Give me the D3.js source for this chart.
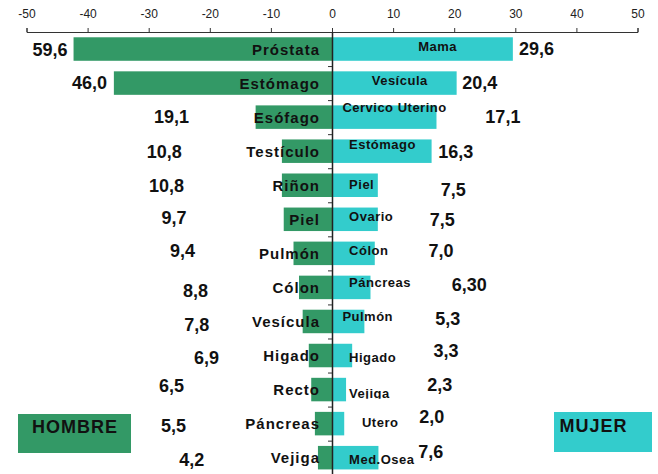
<!DOCTYPE html>
<html>
<head>
<meta charset="utf-8">
<script src="https://cdn.jsdelivr.net/npm/d3@7"></script>
<style>
  body { margin: 0; background: #fff; }
  svg { display: block; font-family: "Liberation Sans", Arial, sans-serif; }
</style>
</head>
<body>
<svg id="chart" width="658" height="474"></svg>
<script>
// --- data ---
const menCancer = ["Próstata", "Estómago", "Esófago", "Testículo", "Riñon", "Piel", "Pulmón",
  "Cólon", "Vesícula", "Higado", "Recto", "Páncreas", "Vejiga"];
const menRateText = ["59,6", "46,0", "19,1", "10,8", "10,8", "9,7", "9,4", "8,8", "7,8", "6,9", "6,5", "5,5", "4,2"];
// bar lengths as drawn (they don't follow the printed numbers on this side)
const menBar = [42.3, 35.7, 12.5, 8.2, 8.2, 7.9, 6.3, 5.4, 4.8, 3.8, 3.4, 2.8, 2.3];

const womenCancer = ["Mama", "Vesícula", "Cervico Uterino", "Estómago", "Piel", "Ovario", "Cólon",
  "Páncreas", "Pulmón", "Higado", "Vejiga", "Utero", "Med.Osea"];
const womenRate = [29.6, 20.4, 17.1, 16.3, 7.5, 7.5, 7.0, 6.3, 5.3, 3.3, 2.3, 2.0, 7.6];
const womenRateText = ["29,6", "20,4", "17,1", "16,3", "7,5", "7,5", "7,0", "6,30", "5,3", "3,3", "2,3", "2,0", "7,6"];

const xTicks = [-50, -40, -30, -20, -10, 0, 10, 20, 30, 40, 50];

// --- label placement (the original labels sit unevenly) ---
// x in axis units, dy in px from row centre to baseline
const menValueEnd = [-43.3, -36.8, -23.4, -24.6, -24.2, -23.8, -22.4, -20.3, -20.1, -18.5, -24.2, -23.9, -20.9];
const menValueDy = [7, 6.3, 5.7, 6.8, 6.5, 4.7, 3.4, 9.3, 9.3, 8.5, 2.5, 8, 8.4];
const womenValueStart = [30.6, 21.3, 25.1, 17.4, 17.8, 16.0, 15.8, 19.6, 16.9, 16.6, 15.6, 14.3, 14.1];
const womenValueDy = [6.3, 6.3, 6.3, 6.8, 10.8, 6.7, 4, 3.3, 3.6, 1.2, 1.5, -0.3, 0.7];
const womenCatStart = [14.1, 6.5, 1.7, 2.8, 2.8, 2.8, 2.8, 2.8, 1.7, 2.8, 2.8, 4.9, 2.8];
const womenCatDy = [1.7, 2, -4.7, -2, 3.8, 1.4, 2, -0.7, -0.4, 6.2, 8.8, 3, 6.4];
const clippedWomenLabel = 10;

const green = "#339966", cyan = "#33cccc";

const svg = d3.select("#chart");

const x = d3.scaleLinear().domain([-50, 50]).range([26.5, 637.5]);
const rows = d3.range(menCancer.length);
const y = d3.scaleBand().domain(rows).range([32, 474.7]).paddingInner(0.31).paddingOuter(0.155);
const rowLines = d3.scaleLinear().domain([0, rows.length]).range([32, 474.7]);
const mid = i => y(i) + y.bandwidth() / 2;

// bars
svg.append("g").selectAll("rect").data(rows).join("rect")
  .attr("x", i => x(-menBar[i]))
  .attr("y", i => y(i))
  .attr("width", i => x(0) - x(-menBar[i]))
  .attr("height", y.bandwidth())
  .attr("fill", green);

svg.append("g").selectAll("rect").data(rows).join("rect")
  .attr("x", x(0))
  .attr("y", i => y(i))
  .attr("width", i => x(womenRate[i]) - x(0))
  .attr("height", y.bandwidth())
  .attr("fill", cyan);

// top axis
const xAxis = svg.append("g")
  .attr("transform", "translate(0,32)")
  .call(d3.axisTop(x).tickValues(xTicks).tickSize(4).tickSizeOuter(4).tickPadding(10)
    .tickFormat(d => String(d)));
xAxis.select(".domain").attr("stroke", "#333");
xAxis.selectAll(".tick line").attr("stroke", "#333");
xAxis.selectAll(".tick text").attr("font-size", 12).attr("fill", "#222")
  .attr("font-family", "'Liberation Sans', Arial, sans-serif");

// centre axis with ticks between rows
const yAxis = svg.append("g")
  .attr("transform", `translate(${x(0)},0)`)
  .call(d3.axisLeft(rowLines).tickValues(d3.range(1, rows.length)).tickSize(4).tickSizeOuter(0).tickFormat(""));
yAxis.select(".domain").attr("stroke", "#222").attr("stroke-width", 1.5);
yAxis.selectAll(".tick line").attr("stroke", "#333");

// men labels
svg.append("g").selectAll("text").data(rows).join("text")
  .attr("x", x(0) - 12)
  .attr("y", i => mid(i) + 5.7)
  .attr("text-anchor", "end")
  .attr("font-size", 15).attr("font-weight", "bold").attr("letter-spacing", 1)
  .attr("fill", "#111")
  .text(i => menCancer[i]);

svg.append("g").selectAll("text").data(rows).join("text")
  .attr("x", i => x(menValueEnd[i]))
  .attr("y", i => mid(i) + menValueDy[i])
  .attr("text-anchor", "end")
  .attr("font-size", 18).attr("font-weight", "bold")
  .attr("fill", "#111")
  .text(i => menRateText[i]);

// women labels
svg.append("clipPath").attr("id", "cut")
  .append("rect")
  .attr("x", 0).attr("width", 658)
  .attr("y", 0).attr("height", mid(clippedWomenLabel) + 9.2);

svg.append("g").selectAll("text").data(rows).join("text")
  .attr("x", i => x(womenCatStart[i]))
  .attr("y", i => mid(i) + womenCatDy[i])
  .attr("font-size", 13).attr("font-weight", "bold").attr("letter-spacing", 0.5)
  .attr("fill", "#111")
  .attr("clip-path", i => i === clippedWomenLabel ? "url(#cut)" : null)
  .text(i => womenCancer[i]);

svg.append("g").selectAll("text").data(rows).join("text")
  .attr("x", i => x(womenValueStart[i]))
  .attr("y", i => mid(i) + womenValueDy[i])
  .attr("font-size", 18).attr("font-weight", "bold")
  .attr("fill", "#111")
  .text(i => womenRateText[i]);

// legend boxes
const legend = [
  { name: "HOMBRE", color: green, x: 18, y: 414, w: 113, h: 39 },
  { name: "MUJER", color: cyan, x: 554, y: 412, w: 98, h: 40 }
];
const lg = svg.append("g").selectAll("g").data(legend).join("g");
lg.append("rect")
  .attr("x", d => d.x).attr("y", d => d.y)
  .attr("width", d => d.w).attr("height", d => d.h)
  .attr("fill", d => d.color);
lg.append("text")
  .attr("x", d => d.name === "HOMBRE" ? d.x + 14 : d.x + 5.5)
  .attr("y", d => d.name === "HOMBRE" ? 433 : 431.7)
  .attr("font-size", 18).attr("font-weight", "bold").attr("letter-spacing", 1)
  .attr("fill", "#111")
  .text(d => d.name);
</script>
</body>
</html>
